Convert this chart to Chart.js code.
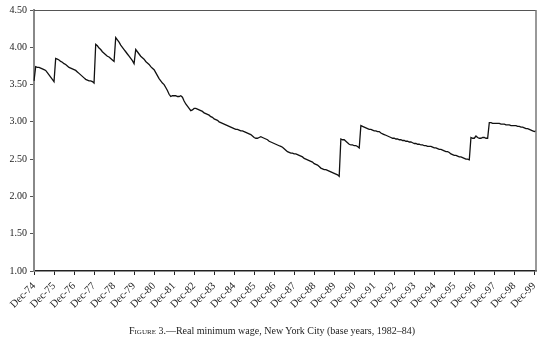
<!DOCTYPE html>
<html>
<head>
<meta charset="utf-8">
<script src="https://cdn.jsdelivr.net/npm/chart.js@4"></script>
<style>
  html, body { margin: 0; padding: 0; background: #fff; }
  #wrap { position: relative; width: 540px; height: 346px; }
  #caption {
    position: absolute; left: 0; top: 324px; width: 544px;
    text-align: center; font: 10px "Liberation Serif", "Times New Roman", serif;
    color: #222; line-height: 13px;
  }
  .sc { font-variant: small-caps; }
</style>
</head>
<body>
<div id="wrap">
  <canvas id="c" width="540" height="346"></canvas>
  <div id="caption"><span class="sc">Figure</span> 3.—Real minimum wage, New York City (base years, 1982–84)</div>
</div>
<script>
// Month names used to build the monthly category labels
const monthNames = ['Jan','Feb','Mar','Apr','May','Jun','Jul','Aug','Sep','Oct','Nov','Dec'];

// Yearly tick labels shown on the horizontal axis (every 12th month)
const tickLabels = ['Dec-74','Dec-75','Dec-76','Dec-77','Dec-78','Dec-79','Dec-80','Dec-81','Dec-82',
  'Dec-83','Dec-84','Dec-85','Dec-86','Dec-87','Dec-88','Dec-89','Dec-90','Dec-91','Dec-92','Dec-93',
  'Dec-94','Dec-95','Dec-96','Dec-97','Dec-98','Dec-99'];

// Real minimum wage (1982–84 dollars), monthly from Dec-74
const realWage = [
  3.55,
  3.74,3.73,3.73,3.72,3.71,3.70,3.69,3.66,3.63,3.60,3.57,3.54, // 1975
  3.85,3.84,3.83,3.81,3.80,3.78,3.77,3.75,3.73,3.72,3.71,3.70, // 1976
  3.69,3.67,3.65,3.63,3.61,3.59,3.57,3.56,3.55,3.55,3.54,3.52, // 1977
  4.04,4.02,3.99,3.97,3.94,3.92,3.90,3.88,3.87,3.85,3.83,3.81, // 1978
  4.13,4.10,4.07,4.03,4.00,3.97,3.94,3.91,3.88,3.85,3.82,3.78, // 1979
  3.97,3.94,3.91,3.88,3.86,3.84,3.81,3.79,3.77,3.74,3.72,3.70, // 1980
  3.66,3.62,3.58,3.55,3.52,3.50,3.46,3.42,3.37,3.34,3.35,3.35, // 1981
  3.35,3.34,3.34,3.35,3.33,3.28,3.24,3.21,3.18,3.15,3.16,3.18, // 1982
  3.18,3.17,3.16,3.15,3.14,3.12,3.11,3.10,3.09,3.07,3.06,3.04, // 1983
  3.03,3.02,3.00,2.99,2.98,2.97,2.96,2.95,2.94,2.93,2.92,2.91, // 1984
  2.90,2.90,2.89,2.88,2.88,2.87,2.86,2.85,2.84,2.83,2.81,2.79, // 1985
  2.78,2.78,2.79,2.80,2.79,2.78,2.77,2.76,2.74,2.73,2.72,2.71, // 1986
  2.70,2.69,2.68,2.67,2.66,2.64,2.62,2.60,2.59,2.58,2.58,2.57, // 1987
  2.57,2.56,2.55,2.54,2.53,2.51,2.50,2.49,2.48,2.47,2.46,2.44, // 1988
  2.43,2.42,2.40,2.38,2.37,2.36,2.36,2.35,2.34,2.33,2.32,2.31, // 1989
  2.30,2.29,2.27,2.77,2.76,2.76,2.74,2.72,2.70,2.69,2.69,2.68, // 1990
  2.68,2.67,2.65,2.95,2.94,2.93,2.92,2.91,2.90,2.90,2.89,2.88, // 1991
  2.88,2.87,2.87,2.85,2.84,2.83,2.82,2.81,2.80,2.79,2.78,2.78, // 1992
  2.77,2.77,2.76,2.76,2.75,2.75,2.74,2.74,2.73,2.73,2.72,2.71, // 1993
  2.71,2.70,2.70,2.69,2.69,2.68,2.68,2.67,2.67,2.67,2.66,2.65, // 1994
  2.65,2.64,2.63,2.63,2.62,2.61,2.60,2.60,2.59,2.57,2.56,2.55, // 1995
  2.55,2.54,2.53,2.53,2.52,2.51,2.50,2.50,2.49,2.79,2.78,2.78, // 1996
  2.81,2.79,2.78,2.78,2.79,2.79,2.78,2.78,2.99,2.99,2.98,2.98, // 1997
  2.98,2.98,2.98,2.97,2.97,2.97,2.96,2.96,2.96,2.95,2.95,2.95, // 1998
  2.95,2.94,2.94,2.93,2.93,2.92,2.91,2.91,2.90,2.89,2.88,2.87, // 1999
  2.88                                                         // 2000
];

// Monthly category labels: Dec-74, Jan-75, ...
const categories = realWage.map((_, i) => {
  const m = (11 + i) % 12;
  const y = 74 + Math.floor((11 + i) / 12);
  return monthNames[m] + '-' + String(y % 100).padStart(2, '0');
});

const serif = '"Liberation Serif", "Times New Roman", serif';

// Thin frame along the top and right of the plot area
const frame = {
  id: 'frame',
  afterDraw(chart) {
    const { ctx, chartArea: a } = chart;
    ctx.save();
    ctx.lineWidth = 1;
    ctx.strokeStyle = '#555';
    ctx.beginPath();
    ctx.moveTo(a.left, a.top + 0.5);
    ctx.lineTo(a.right, a.top + 0.5);
    ctx.stroke();
    ctx.lineWidth = 1.5;
    ctx.strokeStyle = '#777';
    ctx.beginPath();
    ctx.moveTo(a.right, a.top);
    ctx.lineTo(a.right, a.bottom);
    ctx.stroke();
    ctx.restore();
  }
};

new Chart(document.getElementById('c'), {
  type: 'line',
  data: {
    labels: categories,
    datasets: [{
      data: realWage,
      borderColor: '#111',
      borderWidth: 1.3,
      pointRadius: 0,
      tension: 0,
      fill: false
    }]
  },
  options: {
    responsive: false,
    animation: false,
    devicePixelRatio: 1,
    layout: { padding: { top: 10, right: 4, left: 0, bottom: 0 } },
    plugins: { legend: { display: false }, tooltip: { enabled: false } },
    scales: {
      x: {
        type: 'category',
        offset: false,
        afterFit: s => { s.height = 75; s.paddingRight = 0; },
        border: { color: '#222', width: 1.5 },
        grid: {
          drawOnChartArea: false,
          drawTicks: true,
          tickLength: 4,
          color: c => (c.index % 12 === 0 ? '#222' : 'rgba(0,0,0,0)')
        },
        ticks: {
          autoSkip: false,
          minRotation: 45,
          maxRotation: 45,
          padding: 5,
          color: '#222',
          font: { family: serif, size: 10.5 },
          callback: (v, i) => (i % 12 === 0 ? tickLabels[i / 12] : '')
        }
      },
      y: {
        min: 1,
        max: 4.5,
        afterFit: s => { s.width = 34; },
        border: { color: '#888', width: 2 },
        grid: { drawOnChartArea: false, drawTicks: true, tickLength: 4, color: '#555' },
        ticks: {
          stepSize: 0.5,
          padding: 3,
          color: '#222',
          font: { family: serif, size: 10 },
          callback: v => Number(v).toFixed(2)
        }
      }
    }
  },
  plugins: [frame]
});
</script>
</body>
</html>
